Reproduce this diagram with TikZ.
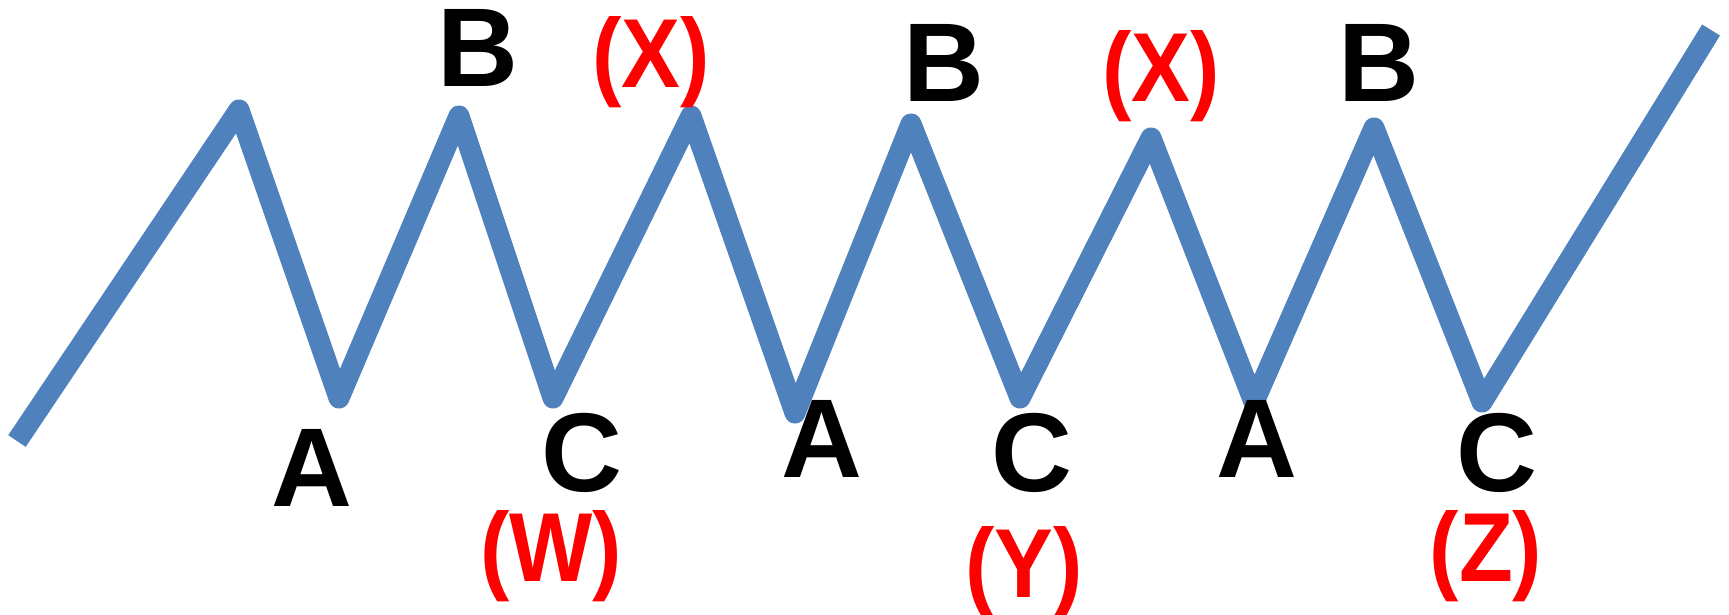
\documentclass[tikz,border=0pt]{standalone}
\usepackage{fontspec}
\setmainfont{Liberation Sans}
\usepackage{xcolor}
\usetikzlibrary{positioning}
\definecolor{wave}{HTML}{4F81BD}

\begin{document}
\begin{tikzpicture}[
    x=1pt, y=-1pt,
    wv/.style   = {draw=wave, line width=21pt, line join=round, line cap=butt},
    lbl/.style  = {anchor=base, inner sep=0pt,
                   font=\fontsize{112}{112}\selectfont\bfseries},
    tag/.style  = {anchor=base, inner sep=0pt, text=red, xscale=0.9,
                   font=\fontsize{98}{98}\selectfont\bfseries},
]
\useasboundingbox (0,0) rectangle (1729,614);

% ============ turning points ============
\coordinate (p0) at (17,441);
\coordinate (p1) at (239,110);
\coordinate (a1) at (339,398);
\coordinate (b1) at (459,116);
\coordinate (c1) at (553,398);
\coordinate (p2) at (691,116);
\coordinate (a2) at (795,413);
\coordinate (b2) at (911,124);
\coordinate (c2) at (1020,398);
\coordinate (p3) at (1151,138);
\coordinate (a3) at (1254,402);
\coordinate (b3) at (1374,128);
\coordinate (c3) at (1482,402);
\coordinate (p4) at (1711,30);

% ============ wave ============
\draw[wv] (p0) -- (p1) -- (a1) -- (b1) -- (c1) -- (p2) -- (a2) -- (b2)
          -- (c2) -- (p3) -- (a3) -- (b3) -- (c3) -- (p4);

% ============ letters ============
\node[lbl] (lB1) at (478,86)   {B};
\node[lbl] (lB2) at (944,101)  {B};
\node[lbl] (lB3) at (1379,101) {B};
\node[lbl] (lA1) at (312,506)  {A};
\node[lbl] (lA2) at (822,477)  {A};
\node[lbl] (lA3) at (1257,477) {A};
\node[lbl] (lC1) at (582,491)  {C};
\node[lbl] (lC2) at (1032,491) {C};
\node[lbl] (lC3) at (1497,491) {C};

% ============ red tags ============
\node[tag] (tX1) at (651,87)   {(X)};
\node[tag] (tX2) at (1161,101) {(X)};
\node[tag] (tW)  at (551,581)  {(W)};
\node[tag] (tY)  at (1024,597) {(Y)};
\node[tag] (tZ)  at (1486,581) {(Z)};

\end{tikzpicture}
\end{document}
